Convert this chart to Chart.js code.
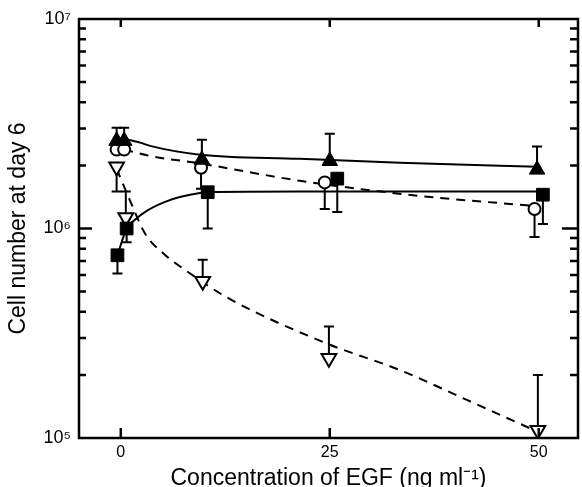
<!DOCTYPE html>
<html><head><meta charset="utf-8">
<script src="https://cdn.jsdelivr.net/npm/chart.js@4"></script>
<style>html,body{margin:0;padding:0;background:#fff;overflow:hidden}#wrap{width:582px;height:487px;position:relative}</style>
</head><body><div id="wrap"><canvas id="c"></canvas></div>
<script>
// ---- tick labels ----
const xTicks = [0, 25, 50];
const yTicks = [1e5, 1e6, 1e7];
const yTickLabels = ['10⁵', '10⁶', '10⁷'];

// ---- filled triangles ----
const ftX  = [-0.5, 0.4, 9.7, 25.0, 49.8];
const ftY  = [2.62e6, 2.62e6, 2.13e6, 2.10e6, 1.91e6];
const ftHi = [3.03e6, 3.03e6, 2.65e6, 2.83e6, 2.46e6];

// ---- open circles ----
const ocX  = [-0.5, 0.4, 9.6, 24.4, 49.5];
const ocY  = [2.38e6, 2.38e6, 1.95e6, 1.66e6, 1.24e6];
const ocLo = [null, null, 1.55e6, 1.24e6, 9.1e5];

// ---- filled squares ----
const fsX  = [-0.4, 0.7, 10.4, 25.9, 50.5];
const fsY  = [7.45e5, 1.0e6, 1.49e6, 1.73e6, 1.45e6];
const fsLo = [6.1e5, 8.6e5, 1.0e6, 1.2e6, 1.05e6];

// ---- open inverted triangles ----
const otX  = [-0.5, 0.6, 9.8, 24.9, 49.9];
const otY  = [1.97e6, 1.13e6, 5.6e5, 2.4e5, 1.09e5];
const otLo = [1.5e6, null, null, null, null];
const otHi = [null, 1.5e6, 7.1e5, 3.41e5, 2.0e5];

// ---- fitted curves ----
const ftCurveX = [0.4, 2.3, 3.5, 9.5, 21.4, 33.4, 49.8];
const ftCurveY = [2.68e6, 2.57e6, 2.48e6, 2.25e6, 2.15e6, 2.06e6, 1.97e6];
const fsCurveX = [-0.4, 0.7, 1.7, 3.2, 5.3, 7.3, 10.4, 21.4, 35.8, 50.5];
const fsCurveY = [7.45e5, 1.0e6, 1.1e6, 1.22e6, 1.34e6, 1.42e6, 1.49e6, 1.5e6, 1.5e6, 1.5e6];
const ocCurveX = [0.4, 3.5, 9.6, 21.4, 35.8, 49.6];
const ocCurveY = [2.38e6, 2.22e6, 2.04e6, 1.69e6, 1.43e6, 1.28e6];
const otCurveX = [-0.5, 1.1, 2.9, 5.1, 8.3, 12.7, 24.6, 33.4, 41.4, 49.9];
const otCurveY = [1.93e6, 1.36e6, 9.46e5, 7.6e5, 6.1e5, 4.69e5, 2.83e5, 2.11e5, 1.52e5, 1.07e5];

const pts = (xs, ys) => xs.map((v, i) => ({x: v, y: ys[i]}));
const FONT = "'Liberation Sans', Arial, Helvetica, sans-serif";

const errSeries = [
  {x: ftX, y: ftY, lo: null, hi: ftHi},
  {x: ocX, y: ocY, lo: ocLo, hi: null},
  {x: fsX, y: fsY, lo: fsLo, hi: null},
  {x: otX, y: otY, lo: otLo, hi: otHi}
];

const errorBars = {
  id: 'errorBars',
  beforeDatasetsDraw(chart) {
    const {ctx, scales: {x, y}} = chart;
    ctx.save();
    ctx.strokeStyle = '#000';
    ctx.lineWidth = 2;
    const cap = 5;
    errSeries.forEach(s => {
      s.x.forEach((xv, i) => {
        const px = x.getPixelForValue(xv), py = y.getPixelForValue(s.y[i]);
        [s.lo, s.hi].forEach(arr => {
          if (!arr || arr[i] == null) return;
          const pe = y.getPixelForValue(arr[i]);
          ctx.beginPath();
          ctx.moveTo(px, py); ctx.lineTo(px, pe);
          ctx.moveTo(px - cap, pe); ctx.lineTo(px + cap, pe);
          ctx.stroke();
        });
      });
    });
    ctx.restore();
  }
};

const frame = {
  id: 'frame',
  afterDatasetsDraw(chart) {
    const {ctx, chartArea: a, scales: {x, y}} = chart;
    ctx.save();
    ctx.strokeStyle = '#000';
    ctx.lineWidth = 2.5;
    ctx.strokeRect(a.left, a.top, a.right - a.left, a.bottom - a.top);
    ctx.beginPath();
    xTicks.forEach(v => {
      const px = x.getPixelForValue(v);
      ctx.moveTo(px, a.bottom); ctx.lineTo(px, a.bottom - 10);
      ctx.moveTo(px, a.top); ctx.lineTo(px, a.top + 8);
    });
    [1e5, 1e6].forEach(d => {
      for (let m = 2; m <= 9; m++) {
        const py = y.getPixelForValue(d * m);
        ctx.moveTo(a.left, py); ctx.lineTo(a.left + 7, py);
        ctx.moveTo(a.right, py); ctx.lineTo(a.right - 8, py);
      }
    });
    const p6 = y.getPixelForValue(1e6);
    ctx.moveTo(a.left, p6); ctx.lineTo(a.left + 13, p6);
    ctx.moveTo(a.right, p6); ctx.lineTo(a.right - 16, p6);
    ctx.stroke();
    ctx.restore();
  }
};

const markerBase = {showLine: false, borderColor: '#000'};
const curveBase = {showLine: true, pointRadius: 0, borderColor: '#000', borderWidth: 2,
  cubicInterpolationMode: 'monotone', fill: false};

new Chart(document.getElementById('c'), {
  type: 'scatter',
  data: {
    datasets: [
      {...markerBase, label: 'filled triangles', data: pts(ftX, ftY), pointStyle: 'triangle',
        pointRadius: 9, backgroundColor: '#000', borderWidth: 1},
      {...markerBase, label: 'filled squares', data: pts(fsX, fsY), pointStyle: 'rect',
        pointRadius: 9, backgroundColor: '#000', borderWidth: 1},
      {...markerBase, label: 'open circles', data: pts(ocX, ocY), pointStyle: 'circle',
        pointRadius: 6, backgroundColor: '#fff', borderWidth: 2},
      {...markerBase, label: 'open triangles', data: pts(otX, otY), pointStyle: 'triangle',
        rotation: 180, pointRadius: 8.5, backgroundColor: '#fff', borderWidth: 2},
      {...curveBase, label: 'ft curve', data: pts(ftCurveX, ftCurveY)},
      {...curveBase, label: 'fs curve', data: pts(fsCurveX, fsCurveY)},
      {...curveBase, label: 'oc curve', data: pts(ocCurveX, ocCurveY), borderDash: [9, 7]},
      {...curveBase, label: 'ot curve', data: pts(otCurveX, otCurveY), borderDash: [9, 7]}
    ]
  },
  options: {
    responsive: true,
    maintainAspectRatio: false,
    animation: false,
    layout: {autoPadding: false, padding: {top: 19, right: 4, left: 0, bottom: 0}},
    plugins: {legend: {display: false}, tooltip: {enabled: false}},
    scales: {
      x: {
        type: 'linear', min: -5, max: 54.7,
        afterBuildTicks: s => { s.ticks = xTicks.map(v => ({value: v})); },
        afterFit: s => { s.height = 49; s.paddingLeft = 0; s.paddingRight = 0; },
        grid: {display: false, drawTicks: false},
        border: {display: false},
        ticks: {color: '#000', font: {family: FONT, size: 16}, padding: 5, maxRotation: 0},
        title: {display: true, text: 'Concentration of EGF (ng ml⁻¹)', color: '#000',
          font: {family: FONT, size: 23, lineHeight: 1}, padding: {top: 0, bottom: -3}}
      },
      y: {
        type: 'logarithmic', min: 1e5, max: 1e7,
        afterBuildTicks: s => { s.ticks = yTicks.map(v => ({value: v})); },
        afterFit: s => { s.width = 79; s.paddingTop = 0; s.paddingBottom = 0; },
        grid: {display: false, drawTicks: false},
        border: {display: false},
        ticks: {color: '#000', font: {family: FONT, size: 18}, padding: 8,
          callback: v => { const i = yTicks.indexOf(v); return i >= 0 ? yTickLabels[i] : ''; }},
        title: {display: true, text: 'Cell number at day 6', color: '#000',
          font: {family: FONT, size: 23, lineHeight: 1}, padding: {top: 7, bottom: 0}}
      }
    }
  },
  plugins: [errorBars, frame]
});
</script>
</body></html>
